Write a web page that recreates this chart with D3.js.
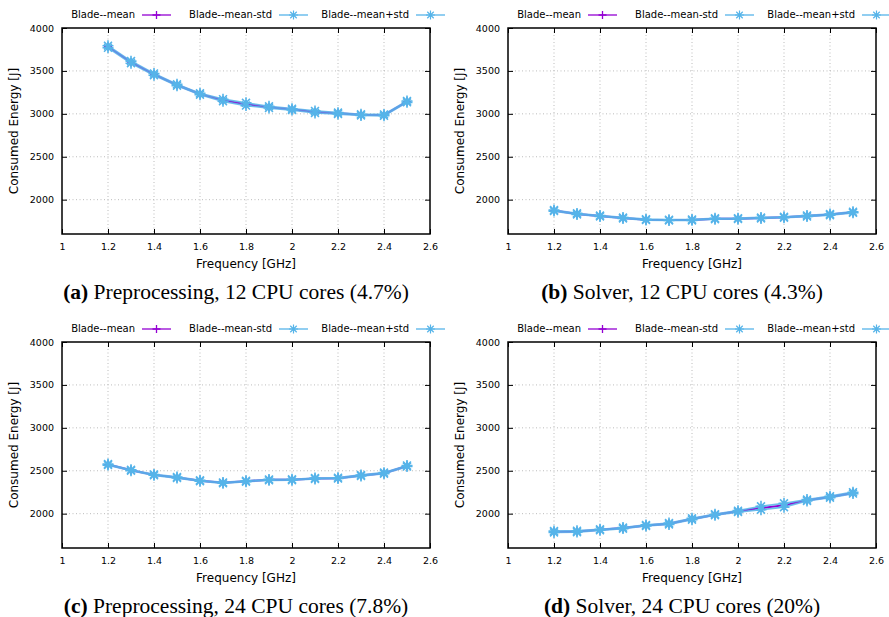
<!DOCTYPE html>
<html>
<head>
<meta charset="utf-8">
<script src="https://cdn.jsdelivr.net/npm/d3@7"></script>
<style>
  body { margin: 0; background: #fff; }
  text { font-family: 'DejaVu Sans', sans-serif; }
  .caption { font-family: 'Liberation Serif', 'Times New Roman', serif; }
</style>
</head>
<body>
<div id="chart"></div>
<script>
// frequencies (GHz)
const freq = [1.2, 1.3, 1.4, 1.5, 1.6, 1.7, 1.8, 1.9, 2.0, 2.1, 2.2, 2.3, 2.4, 2.5]

// consumed energy [J], mean and std per panel
const preproc12Mean = [3782, 3602, 3460, 3336, 3231, 3158, 3112, 3078, 3052, 3022, 3006, 2988, 2985, 3142]
const preproc12Std = [12, 12, 10, 8, 8, 12, 16, 10, 8, 12, 8, 6, 8, 8]
const solver12Mean = [1873, 1834, 1810, 1787, 1767, 1762, 1764, 1778, 1779, 1787, 1795, 1810, 1826, 1853]
const solver12Std = [6, 6, 5, 5, 5, 4, 5, 5, 5, 5, 5, 6, 6, 6]
const preproc24Mean = [2572, 2506, 2452, 2421, 2383, 2359, 2378, 2394, 2395, 2410, 2414, 2445, 2472, 2555]
const preproc24Std = [6, 5, 5, 6, 5, 5, 5, 5, 5, 5, 5, 6, 6, 6]
const solver24Mean = [1789, 1793, 1812, 1832, 1863, 1883, 1938, 1988, 2027, 2066, 2098, 2156, 2195, 2242]
const solver24Std = [8, 8, 6, 6, 6, 8, 8, 6, 8, 20, 23, 8, 8, 8]

const xTicks = [1, 1.2, 1.4, 1.6, 1.8, 2, 2.2, 2.4, 2.6]
const yTicks = [2000, 2500, 3000, 3500, 4000]
const seriesNames = ['Blade--mean', 'Blade--mean-std', 'Blade--mean+std']

const panels = [
  { letter: '(a)', title: ' Preprocessing, 12 CPU cores (4.7%)', mean: preproc12Mean, std: preproc12Std, ox: 0, oy: 0 },
  { letter: '(b)', title: ' Solver, 12 CPU cores (4.3%)', mean: solver12Mean, std: solver12Std, ox: 446, oy: 0 },
  { letter: '(c)', title: ' Preprocessing, 24 CPU cores (7.8%)', mean: preproc24Mean, std: preproc24Std, ox: 0, oy: 314 },
  { letter: '(d)', title: ' Solver, 24 CPU cores (20%)', mean: solver24Mean, std: solver24Std, ox: 446, oy: 314 }
]

const purple = '#9400d3'
const blue = '#56b4e9'

let svg = d3.select('#chart')
  .append('svg')
  .attr('width', 889)
  .attr('height', 617)

let margin = { left: 62, top: 28 }
let width = 368
let height = 206

let x = d3.scaleLinear().domain([1, 2.6]).range([0, width])
let y = d3.scaleLinear().domain([1600, 4000]).range([height, 0])

// gnuplot style markers
function plusMark(g, cx, cy, s, color) {
  g.append('path')
    .attr('d', `M${cx - s},${cy}H${cx + s}M${cx},${cy - s}V${cy + s}`)
    .attr('stroke', color).attr('stroke-width', 1.3).attr('fill', 'none')
}
function starMark(g, cx, cy, s, color, w) {
  let d = s * 0.72
  g.append('path')
    .attr('d', `M${cx - s},${cy}H${cx + s}M${cx},${cy - s}V${cy + s}` +
      `M${cx - d},${cy - d}L${cx + d},${cy + d}M${cx - d},${cy + d}L${cx + d},${cy - d}`)
    .attr('stroke', color).attr('stroke-width', w).attr('fill', 'none')
}

panels.forEach(p => {
  let g = svg.append('g')
    .attr('transform', `translate(${p.ox + margin.left},${p.oy + margin.top})`)

  // grid
  g.selectAll('.vgrid')
    .data(xTicks.slice(1, -1))
    .enter().append('line')
    .attr('x1', d => x(d)).attr('x2', d => x(d))
    .attr('y1', 0).attr('y2', height)
    .attr('stroke', '#b4b4b4').attr('stroke-width', 0.9)
    .attr('stroke-dasharray', '1,2.5')
  g.selectAll('.hgrid')
    .data(yTicks.slice(0, -1))
    .enter().append('line')
    .attr('x1', 0).attr('x2', width)
    .attr('y1', d => y(d)).attr('y2', d => y(d))
    .attr('stroke', '#b4b4b4').attr('stroke-width', 0.9)
    .attr('stroke-dasharray', '1,2.5')

  // axes with inward and mirrored ticks
  g.append('g')
    .attr('transform', `translate(0,${height})`)
    .call(d3.axisBottom(x).tickValues(xTicks).tickSizeInner(-5).tickSizeOuter(0).tickPadding(9)
      .tickFormat(d3.format('')))
    .call(a => a.select('.domain').remove())
  g.append('g')
    .call(d3.axisTop(x).tickValues(xTicks).tickSizeInner(-5).tickSizeOuter(0).tickFormat(''))
    .call(a => a.select('.domain').remove())
  g.append('g')
    .call(d3.axisLeft(y).tickValues(yTicks).tickSizeInner(-5).tickSizeOuter(0).tickPadding(8)
      .tickFormat(d3.format('d')))
    .call(a => a.select('.domain').remove())
  g.append('g')
    .attr('transform', `translate(${width},0)`)
    .call(d3.axisRight(y).tickValues(yTicks).tickSizeInner(-5).tickSizeOuter(0).tickFormat(''))
    .call(a => a.select('.domain').remove())

  g.selectAll('.tick line').attr('stroke', '#000').attr('stroke-width', 1)
  g.selectAll('.tick text')
    .attr('font-family', 'DejaVu Sans, sans-serif')
    .attr('font-size', 9.5)
    .attr('fill', '#000')

  g.append('rect')
    .attr('width', width).attr('height', height)
    .attr('fill', 'none').attr('stroke', '#000').attr('stroke-width', 1.5)

  // axis labels
  g.append('text')
    .text('Frequency [GHz]')
    .attr('x', width / 2).attr('y', height + 34)
    .attr('text-anchor', 'middle')
    .attr('font-size', 12)
  g.append('text')
    .text('Consumed Energy [J]')
    .attr('transform', `translate(-44,${y(2800)}) rotate(-90)`)
    .attr('text-anchor', 'middle')
    .attr('font-size', 12)

  // data
  let lower = p.mean.map((m, i) => m - p.std[i])
  let upper = p.mean.map((m, i) => m + p.std[i])
  let line = d3.line().x((d, i) => x(freq[i])).y(d => y(d))

  g.append('path').datum(p.mean).attr('d', line)
    .attr('fill', 'none').attr('stroke', purple).attr('stroke-width', 2)
  p.mean.forEach((v, i) => plusMark(g, x(freq[i]), y(v), 4, purple))

  ;[lower, upper].forEach(s => {
    g.append('path').datum(s).attr('d', line)
      .attr('fill', 'none').attr('stroke', blue).attr('stroke-width', 1.8).attr('opacity', 0.85)
    s.forEach((v, i) => starMark(g, x(freq[i]), y(v), 5.5, blue, 1.6))
  })

  // legend
  let legend = g.append('g').attr('transform', 'translate(0,-13)')
  let ends = [73, 210, 347]
  seriesNames.forEach((name, i) => {
    legend.append('text')
      .text(name)
      .attr('x', ends[i]).attr('y', 0)
      .attr('text-anchor', 'end')
      .attr('dominant-baseline', 'middle')
      .attr('font-size', 10)
    let color = i === 0 ? purple : blue
    legend.append('line')
      .attr('x1', ends[i] + 7).attr('x2', ends[i] + 36)
      .attr('y1', 0).attr('y2', 0)
      .attr('stroke', color).attr('stroke-width', 1.3)
    if (i === 0) plusMark(legend, ends[i] + 21.5, 0, 4, color)
    else starMark(legend, ends[i] + 21.5, 0, 4.5, color, 1.2)
  })

  // caption
  let cap = svg.append('text')
    .attr('class', 'caption')
    .attr('x', p.ox + 236).attr('y', p.oy + 299)
    .attr('text-anchor', 'middle')
    .attr('font-size', 21.5)
  cap.append('tspan').text(p.letter).attr('font-weight', 'bold')
  cap.append('tspan').text(p.title)
})
</script>
</body>
</html>
